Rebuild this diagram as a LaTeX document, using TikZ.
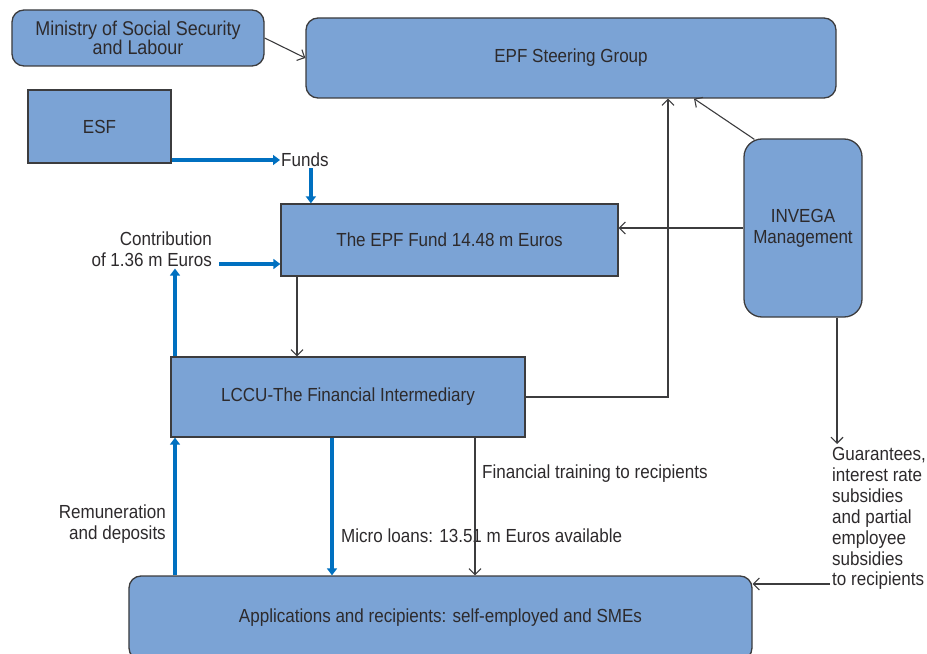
\documentclass[tikz,border=0pt]{standalone}
\usepackage{fontspec}
\setmainfont{Liberation Sans}[FakeStretch=0.9]
\usetikzlibrary{arrows.meta}
\definecolor{boxblue}{RGB}{123,163,213}
\definecolor{flowblue}{RGB}{0,112,192}
\definecolor{inkgray}{RGB}{45,42,44}
\definecolor{edgegray}{RGB}{60,60,62}
\begin{document}
\begin{tikzpicture}[x=1bp, y=-1bp,
        every node/.style={font=\fontsize{19}{21}\selectfont, text=inkgray},
        block/.style={draw=edgegray, line width=1.3bp, fill=boxblue, inner sep=0pt, align=center},
        rblock/.style={block, rounded corners=12bp},
        note/.style={inner sep=1bp},
        thin line/.style={draw=edgegray, line width=1.1bp, -{Straight Barb[length=6bp,width=12bp]}},
        fat line/.style={draw=flowblue, line width=4bp, -{Triangle[length=7bp,width=10bp]}}]
        \useasboundingbox (0,0) rectangle (927,654);
        \clip (0,0) rectangle (927,654);
        \coordinate (col a) at (175,0);
        \coordinate (col b) at (297,0);
        \coordinate (col c) at (332,0);
        \coordinate (col d) at (475,0);
        \coordinate (col e) at (668,0);
        \coordinate (col f) at (837,0);
        \node [rblock, minimum width=252bp, minimum height=56bp, font=\fontsize{20}{18}\selectfont] (ministry) at (138,38) {Ministry of Social Security\\and Labour};
        \node [rblock, minimum width=530bp, minimum height=80bp] (steer) at (571,58) {EPF Steering Group};
        \node [block, minimum width=143bp, minimum height=73bp] (esf) at (99.5,126.5) {ESF};
        \node [note, anchor=west] (funds) at (280,160) {Funds};
        \node [block, minimum width=337bp, minimum height=72bp] (fund) at (449.5,240) {The EPF Fund 14.48 m Euros};
        \node [note, anchor=east, align=right, inner sep=2bp] (contrib) at (214,249) {Contribution\\of 1.36 m Euros};
        \node [block, minimum width=354bp, minimum height=80bp] (lccu) at (348,397) {LCCU-The Financial Intermediary};
        \node [block, rounded corners=18bp, minimum width=118bp, minimum height=178bp] (invega) at (803,228) {INVEGA\\Management};
        \node [note, anchor=north west, align=left, inner sep=3bp] (aid) at (829,444) {Guarantees,\\interest rate\\subsidies\\and partial\\employee\\subsidies\\to recipients};
        \node [rblock, minimum width=623bp, minimum height=84bp] (apply) at (440.5,618) {Applications and recipients: self-employed and SMEs};
        \node [note, anchor=east, align=right] (remun) at (167,524) {Remuneration\\and deposits};
        \node [note, anchor=west] (micro) at (340,536) {Micro loans: 13.51 m Euros available};
        \node [note, anchor=west] (train) at (481,474) {Financial training to recipients};
        \coordinate (aid in) at (830,584);
        \draw [thin line] (ministry.east) -- (steer.west);
        \draw [fat line] (esf.south east |- funds.west) -- (funds.west);
        \draw [fat line] ([xshift=6bp]funds.south) -- ([xshift=6bp]funds.south |- fund.north);
        \draw [fat line] ([shift={(5,15)}]contrib.east) coordinate (contrib out) -- (contrib out -| fund.west);
        \draw [thin line] (col b |- fund.south) -- (col b |- lccu.north);
        \draw [fat line] (col a |- lccu.north) -- (col a |- contrib.south);
        \draw [thin line] (lccu.east) -| (col e |- steer.south);
        \draw [thin line] (invega.west) -- (invega.west -| fund.east);
        \draw [thin line] ([shift={(11,1)}]invega.north west) -- ([xshift=123bp]steer.south);
        \draw [thin line] (col f |- invega.south) -- (col f |- aid.north);
        \draw [fat line] (col a |- apply.north) -- (col a |- lccu.south);
        \draw [fat line] (col c |- lccu.south) -- (col c |- apply.north);
        \draw [thin line] (col d |- lccu.south) -- (col d |- apply.north);
        \draw [thin line] (aid in) -- (aid in -| apply.east);
    \end{tikzpicture}
\end{document}
